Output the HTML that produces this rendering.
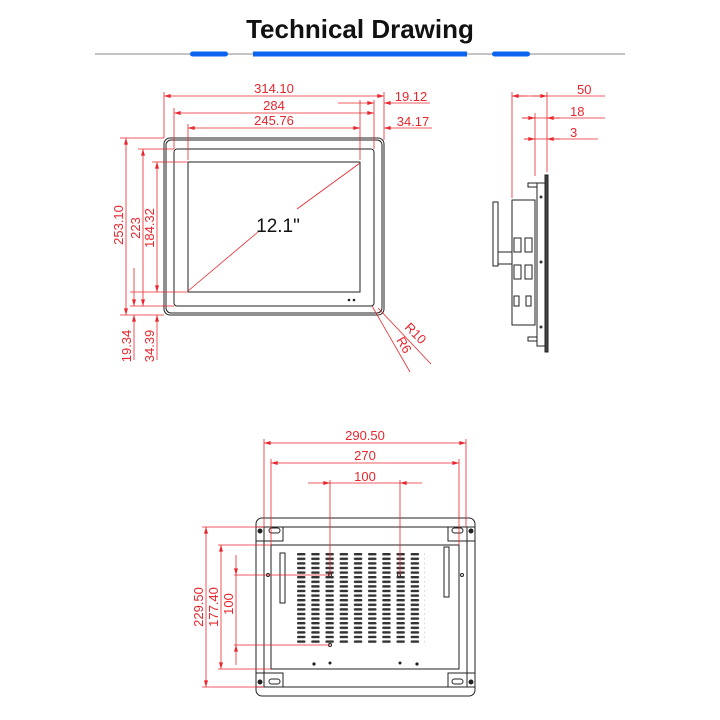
<!DOCTYPE html>
<html><head><meta charset="utf-8"><style>
html,body{margin:0;padding:0;background:#fff;}
svg{display:block}
.r{stroke:#e8262d;stroke-width:0.8;fill:none}
.t{fill:#e8262d;font-family:"Liberation Sans",sans-serif;font-size:13px}
.k{stroke:#222;fill:none;stroke-width:1}
</style></head><body>
<svg width="720" height="720" viewBox="0 0 720 720" xmlns="http://www.w3.org/2000/svg">
<defs>
<marker id="a" viewBox="0 0 10 6" refX="10" refY="3" markerWidth="10" markerHeight="4" orient="auto-start-reverse" markerUnits="userSpaceOnUse"><path d="M0,0 L10,3 L0,6 z" fill="#e8262d"/></marker>
<pattern id="v" x="297" y="553" width="14.2" height="4.6" patternUnits="userSpaceOnUse"><rect x="0" y="0" width="8.5" height="2.4" rx="1" fill="#333"/></pattern>
</defs>
<text x="360" y="38" text-anchor="middle" font-family="'Liberation Sans',sans-serif" font-weight="bold" font-size="26" fill="#111">Technical Drawing</text>
<line x1="95" y1="54" x2="625" y2="54" stroke="#888" stroke-width="1"/>
<rect x="190" y="51.5" width="38" height="5" rx="2.5" fill="#0a64ee"/>
<rect x="253" y="51.5" width="214" height="5" fill="#0a64ee"/>
<rect x="492" y="51.5" width="38" height="5" rx="2.5" fill="#0a64ee"/>

<!-- front view -->
<rect x="164" y="138" width="220" height="177" rx="6" class="k" stroke-width="1.6"/>
<rect x="166" y="140" width="216" height="173" rx="5" class="k" stroke-width="0.6"/>
<rect x="174" y="149" width="200" height="157" rx="3" class="k" stroke-width="1.2"/>
<rect x="188" y="162" width="172" height="130" class="k" stroke-width="1.2"/>
<circle cx="349" cy="300" r="1.3" fill="#222"/><circle cx="354" cy="300" r="1.3" fill="#222"/>
<line x1="188" y1="291" x2="258" y2="232" class="r"/>
<line x1="297" y1="209" x2="360" y2="163" class="r"/>
<text x="278" y="232" text-anchor="middle" font-family="'Liberation Sans',sans-serif" font-size="19" fill="#111">12.1"</text>
<g class="r">
<line x1="164" y1="92" x2="164" y2="138"/><line x1="384" y1="92" x2="384" y2="140"/>
<line x1="174" y1="108" x2="174" y2="149"/><line x1="374" y1="100" x2="374" y2="149"/>
<line x1="188" y1="124" x2="188" y2="160"/><line x1="360" y1="100" x2="360" y2="160"/>
<line x1="164" y1="96" x2="384" y2="96" marker-start="url(#a)" marker-end="url(#a)"/>
<line x1="174" y1="113" x2="374" y2="113" marker-start="url(#a)" marker-end="url(#a)"/>
<line x1="188" y1="128" x2="360" y2="128" marker-start="url(#a)" marker-end="url(#a)"/>
<line x1="338" y1="103" x2="374" y2="103" marker-end="url(#a)"/><line x1="430" y1="103" x2="384" y2="103" marker-end="url(#a)"/>
<line x1="432" y1="128" x2="384" y2="128" marker-end="url(#a)"/>
<line x1="120" y1="138" x2="164" y2="138"/><line x1="120" y1="315" x2="164" y2="315"/>
<line x1="138" y1="149" x2="174" y2="149"/><line x1="130" y1="306" x2="174" y2="306"/>
<line x1="152" y1="162" x2="188" y2="162"/><line x1="130" y1="292" x2="188" y2="292"/>
<line x1="126" y1="138" x2="126" y2="315" marker-start="url(#a)" marker-end="url(#a)"/>
<line x1="143" y1="149" x2="143" y2="306" marker-start="url(#a)" marker-end="url(#a)"/>
<line x1="157" y1="162" x2="157" y2="292" marker-start="url(#a)" marker-end="url(#a)"/>
<line x1="134" y1="268" x2="134" y2="306" marker-end="url(#a)"/><line x1="134" y1="360" x2="134" y2="315" marker-end="url(#a)"/>
<line x1="157" y1="360" x2="157" y2="315" marker-end="url(#a)"/>
<line x1="372" y1="306" x2="410" y2="372"/><line x1="378" y1="308" x2="431" y2="364"/>
</g>
<text class="t" x="274" y="93" text-anchor="middle">314.10</text>
<text class="t" x="274" y="110" text-anchor="middle">284</text>
<text class="t" x="274" y="125" text-anchor="middle">245.76</text>
<text class="t" x="411" y="101" text-anchor="middle">19.12</text>
<text class="t" x="413" y="126" text-anchor="middle">34.17</text>
<text class="t" transform="translate(123,225) rotate(-90)" text-anchor="middle">253.10</text>
<text class="t" transform="translate(140,228) rotate(-90)" text-anchor="middle">223</text>
<text class="t" transform="translate(154,228) rotate(-90)" text-anchor="middle">184.32</text>
<text class="t" transform="translate(131,346) rotate(-90)" text-anchor="middle">19.34</text>
<text class="t" transform="translate(154,346) rotate(-90)" text-anchor="middle">34.39</text>
<text class="t" transform="translate(404,328) rotate(45)">R10</text>
<text class="t" transform="translate(396,340) rotate(60)">R6</text>

<!-- side view -->
<g class="r">
<line x1="512" y1="92" x2="512" y2="198"/><line x1="535" y1="113" x2="535" y2="176"/><line x1="547" y1="92" x2="547" y2="172"/>
<line x1="512" y1="96" x2="605" y2="96"/><line x1="522" y1="118" x2="605" y2="118"/><line x1="524" y1="139" x2="598" y2="139"/>
<line x1="512" y1="96" x2="527" y2="96" marker-start="url(#a)"/><line x1="532" y1="96" x2="547" y2="96" marker-end="url(#a)"/>
<line x1="522" y1="118" x2="535" y2="118" marker-end="url(#a)"/><line x1="560" y1="118" x2="547" y2="118" marker-end="url(#a)"/>
<line x1="524" y1="139" x2="535" y2="139" marker-end="url(#a)"/><line x1="560" y1="139" x2="547" y2="139" marker-end="url(#a)"/>
</g>
<text class="t" x="577" y="94">50</text><text class="t" x="570" y="116">18</text><text class="t" x="570" y="137">3</text>
<g class="k">
<rect x="545" y="175" width="3" height="177" fill="#444"/>
<rect x="537" y="183" width="8" height="163"/>
<rect x="512" y="200" width="23" height="125"/>
<rect x="493" y="202" width="5" height="64"/>
<rect x="498" y="252" width="14" height="12"/>
<rect x="514" y="238" width="7" height="14"/><rect x="525" y="238" width="7" height="14"/>
<rect x="514" y="265" width="7" height="14"/><rect x="525" y="265" width="7" height="14"/>
<rect x="514" y="296" width="5" height="10"/><rect x="526" y="296" width="5" height="10"/>
<rect x="528" y="183" width="9" height="4"/><rect x="528" y="337" width="9" height="4"/>
</g>
<circle cx="541" cy="197" r="1.5" fill="#333"/><circle cx="541" cy="262" r="1.5" fill="#333"/><circle cx="541" cy="327" r="1.5" fill="#333"/>

<!-- bottom view -->
<rect x="256" y="518" width="219" height="178" rx="6" class="k" stroke-width="1.2"/>
<line x1="256" y1="527" x2="475" y2="527" class="k"/><line x1="256" y1="687" x2="475" y2="687" class="k"/>
<rect x="264" y="527" width="203" height="160" class="k" stroke-width="0.7"/>
<rect x="271" y="545" width="188" height="124" class="k" stroke-width="1.2"/>
<rect x="256" y="527" width="27" height="14" class="k"/><rect x="448" y="527" width="27" height="14" class="k"/>
<rect x="256" y="673" width="27" height="14" class="k"/><rect x="448" y="673" width="27" height="14" class="k"/>
<g fill="#222">
<circle cx="260" cy="531" r="2.5"/><circle cx="471" cy="531" r="2.5"/><circle cx="260" cy="682" r="2.5"/><circle cx="471" cy="682" r="2.5"/>
<circle cx="330" cy="663" r="1.5"/><circle cx="400" cy="663" r="1.5"/><circle cx="314" cy="664" r="1.6"/><circle cx="417" cy="664" r="1.6"/>
</g>
<g class="k"><rect x="269" y="528" width="11" height="5" rx="2.5"/><rect x="452" y="528" width="11" height="5" rx="2.5"/><rect x="269" y="679" width="11" height="5" rx="2.5"/><rect x="452" y="679" width="11" height="5" rx="2.5"/>
<circle cx="330" cy="575" r="1.5"/><circle cx="399" cy="575" r="1.5"/><circle cx="330" cy="645" r="1.5"/>
<circle cx="268" cy="575" r="1.5"/><circle cx="462" cy="575" r="1.5"/>
<rect x="280" y="553" width="5" height="50"/><rect x="444" y="547" width="5" height="50"/>
</g>
<rect x="297" y="553" width="128" height="92" fill="url(#v)"/>
<g class="r">
<line x1="264" y1="439" x2="264" y2="527"/><line x1="466" y1="439" x2="466" y2="527"/>
<line x1="271" y1="459" x2="271" y2="545"/><line x1="459" y1="459" x2="459" y2="545"/>
<line x1="330" y1="480" x2="330" y2="575"/><line x1="400" y1="480" x2="400" y2="575"/>
<line x1="264" y1="443" x2="466" y2="443" marker-start="url(#a)" marker-end="url(#a)"/>
<line x1="271" y1="463" x2="459" y2="463" marker-start="url(#a)" marker-end="url(#a)"/>
<line x1="308" y1="483" x2="330" y2="483" marker-end="url(#a)"/><line x1="422" y1="483" x2="400" y2="483" marker-end="url(#a)"/><line x1="330" y1="483" x2="400" y2="483"/>
<line x1="202" y1="527" x2="264" y2="527"/><line x1="202" y1="687" x2="264" y2="687"/>
<line x1="218" y1="545" x2="271" y2="545"/><line x1="218" y1="669" x2="271" y2="669"/>
<line x1="234" y1="575" x2="330" y2="575"/><line x1="234" y1="645" x2="330" y2="645"/>
<line x1="206" y1="527" x2="206" y2="687" marker-start="url(#a)" marker-end="url(#a)"/>
<line x1="221" y1="545" x2="221" y2="669" marker-start="url(#a)" marker-end="url(#a)"/>
<line x1="236" y1="555" x2="236" y2="575" marker-end="url(#a)"/><line x1="236" y1="665" x2="236" y2="645" marker-end="url(#a)"/><line x1="236" y1="575" x2="236" y2="645"/>
</g>
<text class="t" x="365" y="440" text-anchor="middle">290.50</text>
<text class="t" x="365" y="460" text-anchor="middle">270</text>
<text class="t" x="365" y="481" text-anchor="middle">100</text>
<text class="t" transform="translate(203,607) rotate(-90)" text-anchor="middle">229.50</text>
<text class="t" transform="translate(218,607) rotate(-90)" text-anchor="middle">177.40</text>
<text class="t" transform="translate(233,604) rotate(-90)" text-anchor="middle">100</text>
</svg>
</body></html>
